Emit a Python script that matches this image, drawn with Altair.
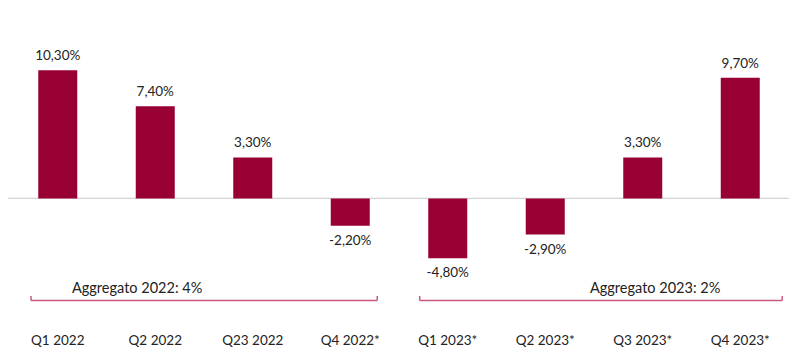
import altair as alt
import pandas as pd

quarters = ["Q1 2022", "Q2 2022", "Q23 2022", "Q4 2022*",
            "Q1 2023*", "Q2 2023*", "Q3 2023*", "Q4 2023*"]
values = [10.3, 7.4, 3.3, -2.2, -4.8, -2.9, 3.3, 9.7]
value_labels = ["10,30%", "7,40%", "3,30%", "-2,20%",
                "-4,80%", "-2,90%", "3,30%", "9,70%"]

bracket_labels = ["Aggregato 2022: 4%", "Aggregato 2023: 2%"]
bracket_start = ["Q1 2022", "Q1 2023*"]
bracket_end = ["Q4 2022*", "Q4 2023*"]
bracket_text_at = ["Q1 2022", "Q2 2023*"]

FONT = "Lato"
BAR = "#990033"
BRACKET = "#c9577f"
TXT = "#222222"

df = pd.DataFrame({"q": quarters, "v": values, "lab": value_labels})

Y_DOM = [-9.76, 15.94]
xs = alt.Scale(domain=quarters, paddingInner=0.6, paddingOuter=0.3)
# full-step band scale for annotations (same pixel range as xs)
xa = alt.Scale(domain=quarters, paddingInner=0, paddingOuter=0)
ys = alt.Scale(domain=Y_DOM, nice=False, zero=False)

X = alt.X("q:N", scale=xs, sort=quarters, title=None,
          axis=alt.Axis(labelAngle=0, domain=False, ticks=False, grid=False,
                        labelFont=FONT, labelFontSize=13.5, labelColor=TXT,
                        labelPadding=13))
Y = alt.Y("v:Q", scale=ys, axis=None)

base = alt.Chart(df)

zero = alt.Chart(pd.DataFrame({"z": [0]})).mark_rule(
    color="#d4d4d4", strokeWidth=1.2).encode(
    y=alt.Y("z:Q", scale=ys, axis=None), x=alt.value(-1), x2=alt.value(780))

bars = base.mark_bar(color=BAR).encode(x=X, y=Y)

XL = alt.X("q:N", scale=xs, sort=quarters, title=None,
           axis=alt.Axis(labelAngle=0, domain=False, ticks=False, grid=False,
                         labelFont=FONT, labelFontSize=13.5, labelColor=TXT,
                         labelPadding=13))
lab_pos = base.transform_filter("datum.v >= 0").mark_text(
    font=FONT, fontSize=13.5, color=TXT, dy=-14, baseline="middle").encode(
    x=XL, y=Y, text="lab:N")
lab_neg = base.transform_filter("datum.v < 0").mark_text(
    font=FONT, fontSize=13.5, color=TXT, dy=15, baseline="middle").encode(
    x=XL, y=Y, text="lab:N")

main = alt.layer(zero, bars, lab_pos, lab_neg)

band_style = [
    {"left": 0.226, "right": 0.777, "text": 0.646},
    {"left": 0.212, "right": 0.931, "text": 0.959},
]
Y_LINE = -8.19
Y_TICK = -7.83
Y_TEXT = -7.57
ann = []
for i in range(len(bracket_labels)):
    st = band_style[i]
    bdf = pd.DataFrame({"s": [bracket_start[i]], "e": [bracket_end[i]],
                        "t": [bracket_text_at[i]], "lab": [bracket_labels[i]],
                        "y1": [Y_LINE], "y2": [Y_TICK], "yt": [Y_TEXT]})
    bc = alt.Chart(bdf)
    hline = bc.mark_rule(color=BRACKET, strokeWidth=1.5).encode(
        x=alt.X("s:N", scale=xa, bandPosition=st["left"], axis=None),
        x2=alt.X2("e:N", bandPosition=st["right"]),
        y=alt.Y("y1:Q", scale=ys, axis=None))
    tl = bc.mark_rule(color=BRACKET, strokeWidth=1.5).encode(
        x=alt.X("s:N", scale=xa, bandPosition=st["left"], axis=None),
        y=alt.Y("y1:Q", scale=ys, axis=None), y2="y2:Q")
    tr = bc.mark_rule(color=BRACKET, strokeWidth=1.5).encode(
        x=alt.X("e:N", scale=xa, bandPosition=st["right"], axis=None),
        y=alt.Y("y1:Q", scale=ys, axis=None), y2="y2:Q")
    tx = bc.mark_text(font=FONT, fontSize=14.5, color=TXT, align="left",
                      baseline="alphabetic").encode(
        x=alt.X("t:N", scale=xa, bandPosition=st["text"], axis=None),
        y=alt.Y("yt:Q", scale=ys, axis=None), text="lab:N")
    ann += [hline, tl, tr, tx]

annot = alt.layer(*ann).resolve_scale(x="shared")

chart = alt.layer(main, annot).resolve_scale(x="independent").properties(
    width=780, height=320,
    autosize=alt.AutoSizeParams(type="none"),
    padding={"left": 9, "top": 0, "right": 11, "bottom": 32},
    background="white",
).configure_view(stroke=None)

chart.save("out.html", embed_options={"renderer": "svg", "actions": False})
